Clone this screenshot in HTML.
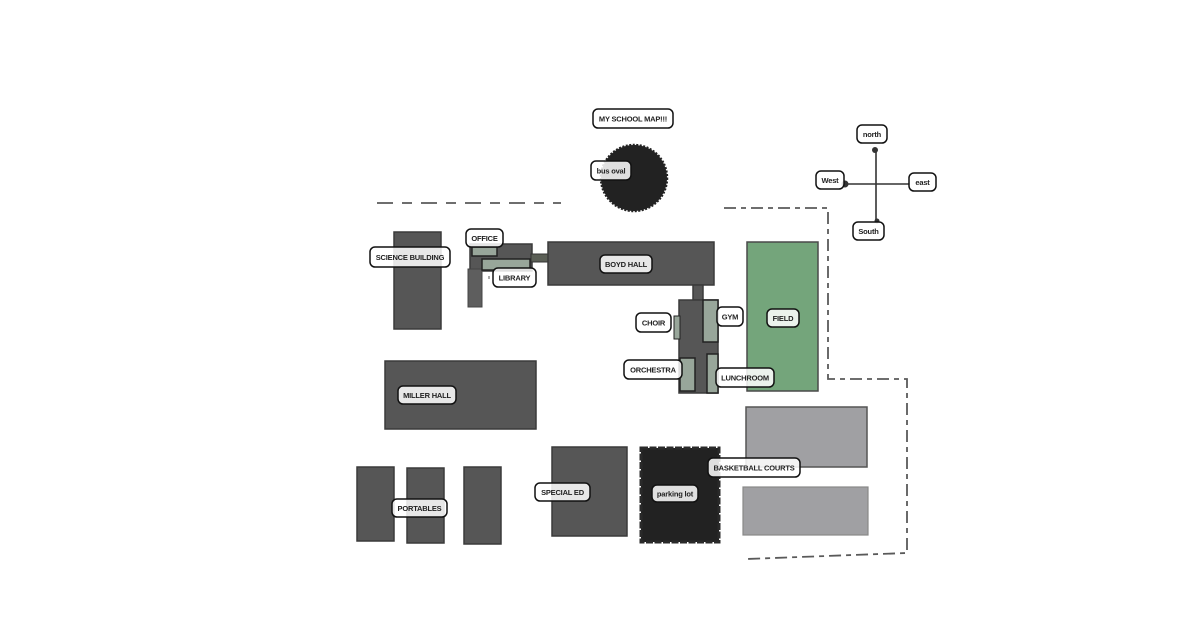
<!DOCTYPE html>
<html><head><meta charset="utf-8"><style>
html,body{margin:0;padding:0;background:#fff;}
svg{display:block;}
.b{fill:#565656;stroke:#3a3a3a;stroke-width:1.5;}
.g{fill:#98a69a;stroke:#222;stroke-width:1.5;}
.lb rect{fill:rgba(255,255,255,0.86);stroke:#111;stroke-width:1.5;}
.lb text{font-family:"Liberation Sans",Arial,sans-serif;font-weight:bold;font-size:7.5px;fill:#222;text-anchor:middle;letter-spacing:-0.2px;}
.dash{fill:none;stroke:#5a5a5a;stroke-width:1.8;}
</style></head><body>
<svg width="1200" height="630" viewBox="0 0 1200 630" xmlns="http://www.w3.org/2000/svg">
<!-- boundary -->
<line class="dash" x1="377" y1="203" x2="561" y2="203" stroke-dasharray="16 9 10 9"/>
<path class="dash" d="M724,208 L828,208 L828,379 L907,379 L907,553 L746,559" stroke-dasharray="12 5 5 5"/>

<!-- bus oval -->
<circle cx="634" cy="178" r="33" fill="#222" stroke="#222" stroke-width="2.5" stroke-dasharray="2 1.5"/>

<!-- compass -->
<line x1="876" y1="150" x2="876" y2="222" stroke="#333" stroke-width="1.6"/>
<line x1="845" y1="184" x2="910" y2="184" stroke="#333" stroke-width="1.6"/>
<circle cx="875" cy="150" r="3" fill="#333"/>
<circle cx="845" cy="184" r="3.5" fill="#333"/>
<circle cx="877" cy="221" r="2.5" fill="#333"/>

<!-- science building -->
<rect class="b" x="394" y="232" width="47" height="97"/>

<!-- office complex -->
<rect class="b" x="470" y="244" width="62" height="27"/>
<rect x="468" y="269" width="14" height="38" fill="#5e5e5e" stroke="#444" stroke-width="1"/>
<rect class="g" x="472" y="247" width="25" height="9"/>
<rect class="g" x="482" y="259" width="48" height="11"/>
<rect x="531" y="254" width="18" height="8" fill="#5b5f56" stroke="#333" stroke-width="1"/>
<line x1="489" y1="276" x2="489" y2="279" stroke="#555" stroke-width="1"/>

<!-- boyd hall -->
<rect class="b" x="548" y="242" width="166" height="43"/>
<rect class="b" x="693" y="285" width="10" height="15"/>

<!-- gym complex -->
<rect class="b" x="679" y="300" width="39" height="93"/>
<rect class="g" x="703" y="300" width="15" height="42"/>
<rect class="g" x="674" y="316" width="6" height="23" style="stroke-width:1"/>
<rect class="g" x="680" y="358" width="15" height="33"/>
<rect class="g" x="707" y="354" width="11" height="39"/>

<!-- field -->
<rect x="747" y="242" width="71" height="149" fill="#74a57b" stroke="#4a4a4a" stroke-width="1.5"/>

<!-- miller hall -->
<rect class="b" x="385" y="361" width="151" height="68"/>

<!-- portables -->
<rect class="b" x="357" y="467" width="37" height="74"/>
<rect class="b" x="407" y="468" width="37" height="75"/>
<rect class="b" x="464" y="467" width="37" height="77"/>

<!-- special ed -->
<rect class="b" x="552" y="447" width="75" height="89"/>

<!-- parking lot -->
<rect x="641" y="448" width="78" height="94" fill="#222" stroke="#2a2a2a" stroke-width="3" stroke-dasharray="7 1.5"/>

<!-- basketball courts -->
<rect x="746" y="407" width="121" height="60" fill="#a0a0a3" stroke="#555" stroke-width="1.5"/>
<rect x="743" y="487" width="125" height="48" fill="#a0a0a3" stroke="#888" stroke-width="1.2"/>

<!-- labels -->
<g class="lb">
<rect x="593" y="109" width="80" height="19" rx="5"/><text x="633" y="121.5">MY SCHOOL MAP!!!</text>
<rect x="591" y="161" width="40" height="19" rx="5"/><text x="611" y="173.5">bus oval</text>
<rect x="857" y="125" width="30" height="18" rx="5"/><text x="872" y="137">north</text>
<rect x="816" y="171" width="28" height="18" rx="5"/><text x="830" y="183">West</text>
<rect x="909" y="173" width="27" height="18" rx="5"/><text x="922.5" y="185">east</text>
<rect x="853" y="222" width="31" height="18" rx="5"/><text x="868.5" y="234">South</text>
<rect x="370" y="247" width="80" height="20" rx="5"/><text x="410" y="260">SCIENCE BUILDING</text>
<rect x="466" y="229" width="37" height="18" rx="5"/><text x="484.5" y="241">OFFICE</text>
<rect x="493" y="268" width="43" height="19" rx="5"/><text x="514.5" y="280.5">LIBRARY</text>
<rect x="600" y="255" width="52" height="18" rx="5"/><text x="626" y="267">BOYD HALL</text>
<rect x="636" y="313" width="35" height="19" rx="5"/><text x="653.5" y="325.5">CHOIR</text>
<rect x="717" y="307" width="26" height="19" rx="5"/><text x="730" y="319.5">GYM</text>
<rect x="767" y="309" width="32" height="18" rx="5"/><text x="783" y="321">FIELD</text>
<rect x="624" y="360" width="58" height="19" rx="5"/><text x="653" y="372.5">ORCHESTRA</text>
<rect x="716" y="368" width="58" height="19" rx="5"/><text x="745" y="380.5">LUNCHROOM</text>
<rect x="398" y="386" width="58" height="18" rx="5"/><text x="427" y="398">MILLER HALL</text>
<rect x="392" y="499" width="55" height="18" rx="5"/><text x="419.5" y="511">PORTABLES</text>
<rect x="535" y="483" width="55" height="18" rx="5"/><text x="562.5" y="495">SPECIAL ED</text>
<rect x="652" y="485" width="46" height="17" rx="5"/><text x="675" y="496.5">parking lot</text>
<rect x="708" y="458" width="92" height="19" rx="5"/><text x="754" y="470.5">BASKETBALL COURTS</text>
</g>
</svg>
</body></html>
